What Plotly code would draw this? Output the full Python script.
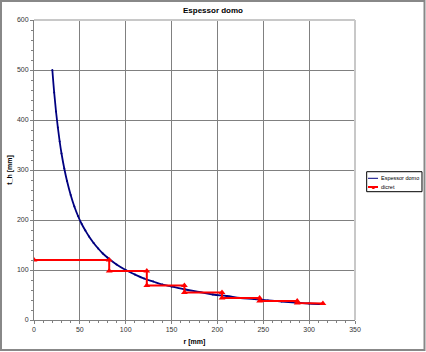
import plotly.graph_objects as go

# Continuous thickness curve
r_curve = [20, 22, 24, 26, 28, 30, 33, 36, 40, 44, 48, 52, 56, 60, 65, 70, 75, 80, 90, 100,
           110, 120, 130, 140, 150, 165, 180, 195, 210, 225, 240, 255, 270, 285, 300, 315]
t_curve = [500, 455, 417, 385, 357, 333, 303, 278, 250, 227, 208, 192, 179, 167, 154, 143, 133, 125, 111, 100,
           91, 83, 77, 71, 67, 61, 56, 51, 48, 44, 42, 39, 37, 35, 33, 32]

# Discrete steps
r_disc = [0, 82, 82, 123, 123, 164, 164, 205, 205, 246, 246, 287, 287, 315]
t_disc = [120, 120, 98, 98, 69, 69, 55, 55, 44, 44, 38, 38, 34, 33]

series_names = ["Espessor domo", "dicret"]

fig = go.Figure()
fig.add_trace(go.Scatter(x=r_curve, y=t_curve, mode="lines+markers", name=series_names[0],
                         line=dict(color="#000080", width=1.8, shape="spline"),
                         marker=dict(size=2, color="#000080")))
fig.add_trace(go.Scatter(x=r_disc, y=t_disc, mode="lines+markers", name=series_names[1],
                         line=dict(color="#ff0000", width=2),
                         marker=dict(symbol="triangle-up", size=6, color="#ff0000")))

axis_font = dict(family="Liberation Sans, Arial", size=7, color="#333333")
fig.update_xaxes(range=[0, 350], dtick=50, showgrid=True, gridcolor="#808080", gridwidth=1,
                 showline=True, linecolor="#808080", linewidth=1, ticks="outside", ticklen=3,
                 tickcolor="#808080", tickfont=axis_font, zeroline=False,
                 minor=dict(dtick=10, ticks="outside", ticklen=2, tickcolor="#808080", showgrid=False),
                 title=dict(text="<b>r [mm]</b>", font=dict(family="Liberation Sans, Arial", size=7, color="#000"), standoff=6))
fig.update_yaxes(range=[0, 600], dtick=100, showgrid=True, gridcolor="#808080", gridwidth=1,
                 showline=True, linecolor="#808080", linewidth=1, ticks="outside", ticklen=3,
                 tickcolor="#808080", tickfont=axis_font, zeroline=False,
                 minor=dict(dtick=20, ticks="outside", ticklen=2, tickcolor="#808080", showgrid=False),
                 title=dict(text="<b>t_h [mm]</b>", font=dict(family="Liberation Sans, Arial", size=7, color="#000"), standoff=3))

fig.add_shape(type="line", xref="paper", yref="paper", x0=0, x1=1, y0=1, y1=1,
              line=dict(color="#c8c8c8", width=2))
fig.add_shape(type="line", xref="paper", yref="paper", x0=1, x1=1, y0=0, y1=1,
              line=dict(color="#c8c8c8", width=2))
fig.add_shape(type="rect", xref="paper", yref="paper", x0=-0.1028, x1=1.2165, y0=-0.1, y1=1.0633,
              line=dict(color="#888888", width=2))

# Manual legend (paper coords: plot area 321 px wide, 300 px tall)
fig.add_shape(type="rect", xref="paper", yref="paper", x0=1.0364, x1=1.2087, y0=0.4277, y1=0.4943,
              line=dict(color="#000", width=1), fillcolor="white")
leg_y = [0.4723, 0.4433]
leg_col = ["#000080", "#ff0000"]
for i in range(2):
    fig.add_shape(type="line", xref="paper", yref="paper", x0=1.0405, x1=1.0717, y0=leg_y[i], y1=leg_y[i],
                  line=dict(color=leg_col[i], width=1 if i == 0 else 2))
    fig.add_annotation(xref="paper", yref="paper", x=1.0749, y=leg_y[i], text=series_names[i],
                       showarrow=False, xanchor="left", yanchor="middle",
                       font=dict(family="Liberation Sans, Arial", size=5.5, color="#000"))
fig.add_annotation(xref="paper", yref="paper", x=1.0561, y=leg_y[1], text="▲", showarrow=False,
                   xanchor="center", yanchor="middle", font=dict(size=5, color="#ff0000"))

fig.update_layout(
    width=426, height=352,
    margin=dict(l=34, r=71, t=20, b=32, autoexpand=False),
    paper_bgcolor="white", plot_bgcolor="white",
    title=dict(text="<b>Espessor domo</b>", x=0.5, xref="container", y=0.972, yanchor="middle",
               font=dict(family="Liberation Sans, Arial", size=8, color="#000")),
    showlegend=False,
)

fig.write_html("out.html")
